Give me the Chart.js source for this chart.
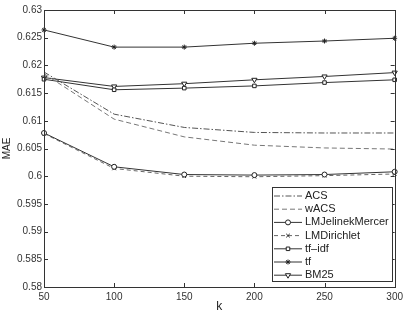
<!DOCTYPE html>
<html>
<head>
<meta charset="utf-8">
<script src="https://cdn.jsdelivr.net/npm/chart.js@4/dist/chart.umd.min.js"></script>
<style>
  html, body { margin: 0; padding: 0; background: #fff; }
  canvas { display: block; }
</style>
</head>
<body>
<canvas id="maeChart" width="407" height="314"></canvas>
<script>
  const kValues = ["50", "100", "150", "200", "250", "300"];
  const yTickValues = [0.58, 0.585, 0.59, 0.595, 0.6, 0.605, 0.61, 0.615, 0.62, 0.625, 0.63];

  const acs = [0.6188, 0.6112, 0.6088, 0.6079, 0.6078, 0.6078];
  const wacs = [0.6185, 0.6103, 0.6071, 0.6056, 0.6051, 0.6049];
  const lmJelinekMercer = [0.6078, 0.6017, 0.6003, 0.6002, 0.6003, 0.6008];
  const lmDirichlet = [0.6077, 0.6014, 0.6000, 0.5999, 0.6001, 0.6004];
  const tfIdf = [0.6175, 0.6156, 0.6159, 0.6163, 0.6169, 0.6174];
  const tf = [0.6264, 0.6233, 0.6233, 0.6240, 0.6244, 0.6249];
  const bm25 = [0.6178, 0.6162, 0.6167, 0.6174, 0.6180, 0.6187];

  const font = "'Liberation Sans', Arial, sans-serif";

  function series(label, data, color, dash, style, radius, rotation) {
    return {
      label,
      data,
      borderColor: color,
      backgroundColor: "rgba(0,0,0,0)",
      borderWidth: 1,
      borderDash: dash,
      pointStyle: style || "circle",
      pointRadius: style ? radius : 0,
      pointRotation: rotation || 0,
      pointBorderColor: "#222",
      pointBackgroundColor: style === "star" ? "#222" : "#fff",
      pointBorderWidth: 1,
      tension: 0
    };
  }

  const datasets = [
    series("ACS", acs, "#555", [6, 2, 1.5, 2]),
    series("wACS", wacs, "#777", [5, 3]),
    series("LMJelinekMercer", lmJelinekMercer, "#333", [], "circle", 2.5),
    series("LMDirichlet", lmDirichlet, "#666", [4, 3], "crossRot", 2.5),
    series("tf\u2013idf", tfIdf, "#333", [], "rect", 2.5),
    series("tf", tf, "#333", [], "star", 2.5),
    series("BM25", bm25, "#333", [], "triangle", 3, 180)
  ];

  const framePlugin = {
    id: "frame",
    afterDraw(chart) {
      const { ctx, chartArea: a, scales } = chart;
      ctx.save();
      ctx.strokeStyle = "#333";
      ctx.lineWidth = 1;
      ctx.strokeRect(Math.round(a.left) + 0.5, Math.round(a.top) + 0.5,
        Math.round(a.right - a.left), Math.round(a.bottom - a.top));
      ctx.beginPath();
      scales.x.ticks.forEach((t, i) => {
        const x = Math.round(scales.x.getPixelForTick(i)) + 0.5;
        ctx.moveTo(x, a.bottom); ctx.lineTo(x, a.bottom - 4);
        ctx.moveTo(x, a.top); ctx.lineTo(x, a.top + 4);
      });
      scales.y.ticks.forEach((t) => {
        const y = Math.round(scales.y.getPixelForValue(t.value)) + 0.5;
        ctx.moveTo(a.left, y); ctx.lineTo(a.left + 4, y);
        ctx.moveTo(a.right, y); ctx.lineTo(a.right - 4, y);
      });
      ctx.stroke();

      // legend box, bottom right inside the axes
      const bx = 272, by = 187, bw = 120, bh = 94, rowH = 13.2;
      ctx.fillStyle = "#fff";
      ctx.fillRect(bx, by, bw, bh);
      ctx.strokeRect(bx + 0.5, by + 0.5, bw, bh);
      ctx.font = "11px " + font;
      ctx.textBaseline = "middle";
      chart.data.datasets.forEach((ds, i) => {
        const y = by + 9 + i * rowH;
        ctx.strokeStyle = ds.borderColor;
        ctx.setLineDash(ds.borderDash);
        ctx.beginPath();
        ctx.moveTo(bx + 2, y); ctx.lineTo(bx + 30, y);
        ctx.stroke();
        ctx.setLineDash([]);
        if (ds.pointRadius > 0) {
          ctx.strokeStyle = ds.pointBorderColor;
          ctx.fillStyle = ds.pointBackgroundColor;
          ctx.lineWidth = 1;
          Chart.helpers.drawPoint(ctx, {
            pointStyle: ds.pointStyle,
            rotation: ds.pointRotation,
            radius: ds.pointRadius,
            borderWidth: 1
          }, bx + 16, y);
        }
        ctx.fillStyle = "#222";
        ctx.fillText(ds.label, bx + 33, y);
      });
      ctx.restore();
    }
  };

  new Chart(document.getElementById("maeChart"), {
    type: "line",
    data: { labels: kValues, datasets },
    options: {
      responsive: false,
      animation: false,
      layout: { padding: { top: 10, right: 10, left: 0, bottom: 0 } },
      plugins: { legend: { display: false }, tooltip: { enabled: false } },
      scales: {
        x: {
          offset: false,
          grid: { display: false, drawTicks: false },
          border: { display: false },
          ticks: { color: "#333", font: { family: font, size: 10 }, padding: 4, maxRotation: 0 },
          title: { display: true, text: "k", color: "#222", font: { family: font, size: 12 }, padding: { top: 0, bottom: 0 } },
          afterFit(scale) { scale.height = 27; }
        },
        y: {
          min: 0.58,
          max: 0.63,
          grid: { display: false, drawTicks: false },
          border: { display: false },
          afterBuildTicks(scale) { scale.ticks = yTickValues.map((v) => ({ value: v })); },
          ticks: {
            color: "#333",
            font: { family: font, size: 10 },
            padding: 2,
            callback: (v) => String(Number(v.toFixed(3)))
          },
          title: { display: true, text: "MAE", color: "#222", font: { family: font, size: 10 }, padding: { top: 1, bottom: 0 } },
          afterFit(scale) { scale.width = 44; }
        }
      }
    },
    plugins: [framePlugin]
  });
</script>
</body>
</html>
